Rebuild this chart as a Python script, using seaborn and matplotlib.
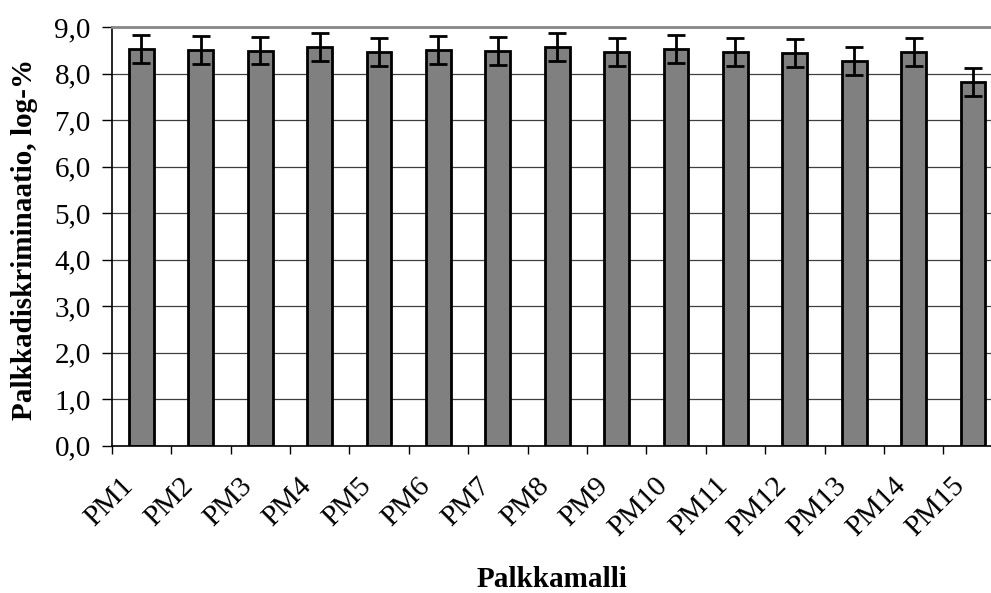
import numpy as np
import pandas as pd
import matplotlib
matplotlib.use("Agg")
import matplotlib.pyplot as plt
import matplotlib.transforms as mtransforms
from matplotlib.ticker import FixedLocator, FuncFormatter
import seaborn as sns

# values
models = ["PM1", "PM2", "PM3", "PM4", "PM5", "PM6", "PM7", "PM8",
          "PM9", "PM10", "PM11", "PM12", "PM13", "PM14", "PM15"]
discrimination = [8.53, 8.51, 8.50, 8.58, 8.46, 8.51, 8.49, 8.58,
                  8.46, 8.54, 8.47, 8.45, 8.27, 8.47, 7.83]
error_half = [0.30, 0.30, 0.30, 0.30, 0.30, 0.30, 0.31, 0.30,
              0.30, 0.30, 0.30, 0.30, 0.30, 0.30, 0.30]
y_ticks = [0, 1, 2, 3, 4, 5, 6, 7, 8, 9]

df = pd.DataFrame({"malli": models, "arvo": discrimination, "virhe": error_half})

sns.set_theme(style="white")
plt.rcParams['font.family'] = ['Liberation Serif', 'DejaVu Serif']
plt.rcParams['axes.edgecolor'] = 'black'
plt.rcParams['text.color'] = 'black'
plt.rcParams['axes.labelcolor'] = 'black'
plt.rcParams['xtick.color'] = 'black'
plt.rcParams['ytick.color'] = 'black'

fig = plt.figure(figsize=(9.91, 5.93), dpi=100)
W, H = 991, 593
left_px, right_px = 111.7, 111.7 + 15 * 59.4
top_px, bottom_px = 27.3, 445.7
ax = fig.add_axes([left_px / W, 1 - bottom_px / H,
                   (right_px - left_px) / W, (bottom_px - top_px) / H])

sns.barplot(data=df, x="malli", y="arvo", color="#808080", saturation=1,
            edgecolor="black", linewidth=2.0, width=0.42, ax=ax, zorder=2)
ax.errorbar(np.arange(len(models)), df["arvo"], yerr=df["virhe"], fmt="none",
            ecolor="black", elinewidth=2.0, capsize=6.5, capthick=2.0, zorder=3)

ax.set_xlim(-0.5, len(models) - 0.5)
ax.set_ylim(0, 9)
ax.yaxis.set_major_locator(FixedLocator(y_ticks))
ax.yaxis.set_major_formatter(FuncFormatter(lambda v, p: f"{v:.1f}".replace(".", ",")))
ax.yaxis.grid(True, color="#404040", linewidth=0.9)
ax.set_axisbelow(True)

for side in ["left", "bottom"]:
    ax.spines[side].set_color("black")
    ax.spines[side].set_linewidth(1.2)
ax.spines["top"].set_color("#888888")
ax.spines["top"].set_linewidth(2.0)
ax.spines["right"].set_visible(False)

ax.tick_params(axis="y", which="major", direction="out", length=7, width=1.0,
               left=True, pad=8, labelsize=21, colors="black")
# category boundaries get tick marks, centres get the labels
ax.xaxis.set_minor_locator(FixedLocator(np.arange(-0.5, len(models), 1.0)))
ax.tick_params(axis="x", which="minor", direction="out", length=6, width=1.0,
               bottom=True, color="black")
ax.tick_params(axis="x", which="major", length=0, pad=26, labelsize=21,
               labelcolor="black")
offset = mtransforms.ScaledTranslation(-12 / 100, 0, fig.dpi_scale_trans)
for lab in ax.get_xticklabels():
    lab.set_rotation(45)
    lab.set_ha("right")
    lab.set_va("center")
    lab.set_rotation_mode("anchor")
    lab.set_transform(lab.get_transform() + offset)

ax.set_xlabel("Palkkamalli", fontsize=21, fontweight="bold", color="black")
ax.set_ylabel("Palkkadiskriminaatio, log-%", fontsize=21, fontweight="bold",
              color="black")
ax.xaxis.set_label_coords((552 - left_px) / (right_px - left_px),
                          -(566 - bottom_px) / (bottom_px - top_px))
ax.yaxis.set_label_coords(-(112 - 38) / (right_px - left_px),
                          (bottom_px - 239) / (bottom_px - top_px))

fig.savefig("out.png", dpi=100)
